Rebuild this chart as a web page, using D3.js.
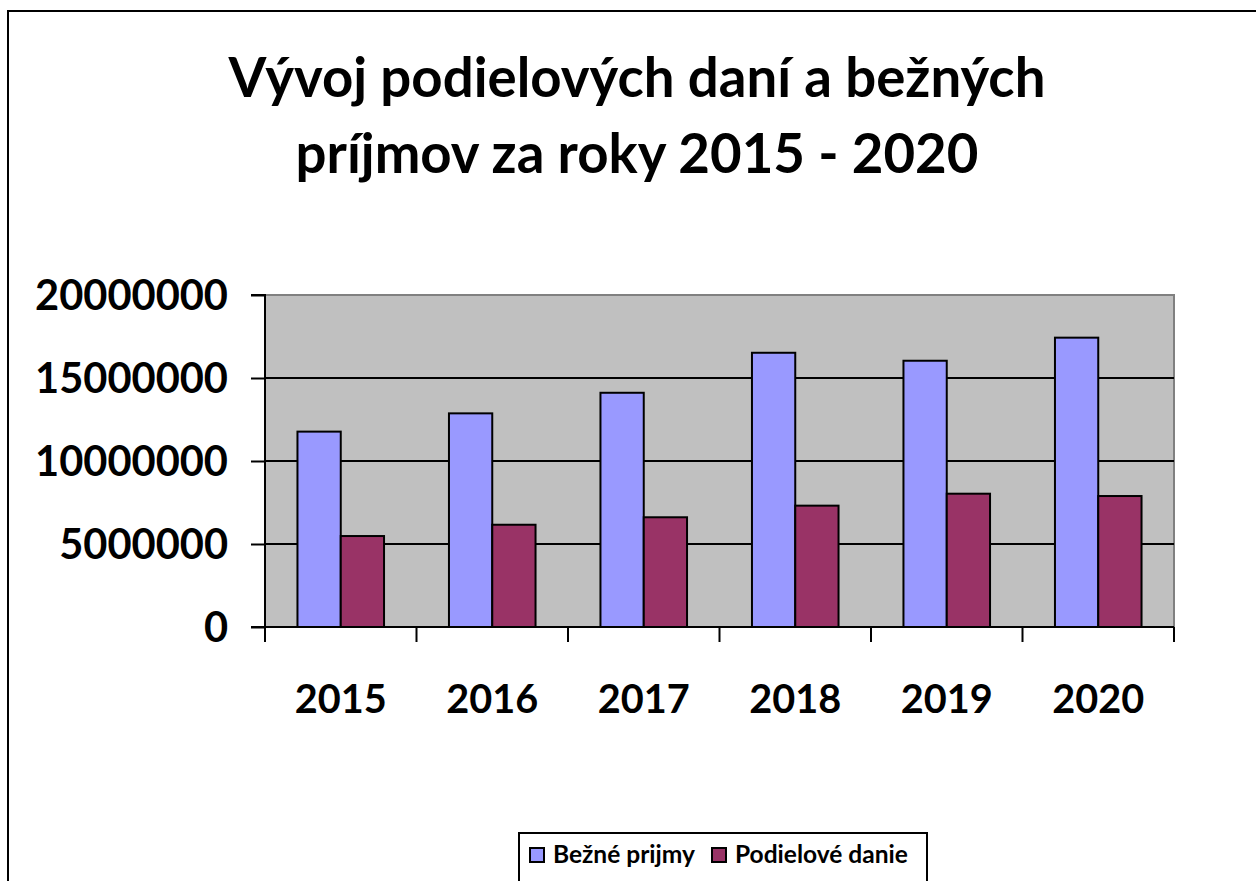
<!DOCTYPE html>
<html>
<head>
<meta charset="utf-8">
<script src="https://cdn.jsdelivr.net/npm/d3@7"></script>
<style>
  html, body { margin: 0; padding: 0; background: #fff; }
  svg { display: block; }
  text { font-family: Lato, "Open Sans", "DejaVu Sans", sans-serif; font-weight: bold; fill: #000; }
</style>
</head>
<body>
<svg id="chart" width="1256" height="881"></svg>
<script>
const titleLines = ["Vývoj podielových daní a bežných", "príjmov za roky 2015 - 2020"];
const years = ["2015", "2016", "2017", "2018", "2019", "2020"];
const seriesNames = ["Bežné prijmy", "Podielové danie"];
const bezne = [11770000, 12870000, 14110000, 16520000, 16040000, 17430000];
const podielove = [5480000, 6160000, 6610000, 7310000, 8030000, 7890000];
const yTicks = [0, 5000000, 10000000, 15000000, 20000000];
const colors = ["#9999FF", "#993366"];

const svg = d3.select("#chart");
const W = 1256, H = 881;

// size a text so its rendered width equals target
function fitSize(str, target) {
  const t = svg.append("text").style("font-size", "100px").text(str);
  const w = t.node().getComputedTextLength();
  t.remove();
  return 100 * target / w;
}

// outer chart frame (extends past right/bottom edge)
svg.append("rect").attr("x", 8).attr("y", 11).attr("width", W + 20).attr("height", H + 20)
  .attr("fill", "#fff").attr("stroke", "#000").attr("stroke-width", 2);

// title
const titleSize = fitSize(titleLines[0], 817);
svg.append("g").selectAll("text").data(titleLines).join("text")
  .attr("x", 637).attr("y", (d, i) => 97 + i * 76)
  .attr("text-anchor", "middle").style("font-size", titleSize + "px").text(d => d);

const plot = { left: 265, top: 295, right: 1174, bottom: 627 };
const x = d3.scaleBand().domain(years).range([plot.left, plot.right]).paddingInner(0).paddingOuter(0);
const y = d3.scaleLinear().domain([0, 20000000]).range([plot.bottom, plot.top]);

// plot area background
svg.append("rect").attr("x", plot.left).attr("y", plot.top)
  .attr("width", plot.right - plot.left).attr("height", plot.bottom - plot.top)
  .attr("fill", "#C0C0C0");
// grey top/right border
svg.append("path")
  .attr("d", `M${plot.left},${plot.top}H${plot.right}V${plot.bottom}`)
  .attr("fill", "none").attr("stroke", "#808080").attr("stroke-width", 2);

// gridlines
svg.append("g").selectAll("line").data(yTicks.filter(d => d > 0 && d < 20000000)).join("line")
  .attr("x1", plot.left).attr("x2", plot.right)
  .attr("y1", d => y(d)).attr("y2", d => y(d))
  .attr("stroke", "#000").attr("stroke-width", 2);

// bars
const barW = x.bandwidth() / 3.5;
const series = [bezne, podielove];
series.forEach((vals, si) => {
  svg.append("g").selectAll("rect").data(vals).join("rect")
    .attr("x", (d, i) => x(years[i]) + barW * 0.75 + si * barW)
    .attr("y", d => y(d))
    .attr("width", barW)
    .attr("height", d => plot.bottom - y(d))
    .attr("fill", colors[si]).attr("stroke", "#000").attr("stroke-width", 2);
});

// y axis
const ySize = fitSize("20000000", 193);
const yAxis = d3.axisLeft(y).tickValues(yTicks).tickSize(14).tickPadding(23).tickFormat(d3.format("d"));
const gy = svg.append("g").attr("transform", `translate(${plot.left},0)`).call(yAxis);
gy.select(".domain").attr("stroke", "#000").attr("stroke-width", 2).attr("d", `M-14,${plot.top}H0V${plot.bottom}H-14`);
gy.selectAll(".tick line").attr("stroke", "#000").attr("stroke-width", 2);
gy.selectAll(".tick text").style("font-size", ySize + "px").attr("dy", "0.36em").attr("font-family", null);

// x axis
const xSize = fitSize("2015", 92);
const xAxis = d3.axisBottom(x).tickSize(0).tickPadding(58);
const gx = svg.append("g").attr("transform", `translate(0,${plot.bottom})`).call(xAxis);
gx.select(".domain").attr("stroke", "#000").attr("stroke-width", 2).attr("d", `M${plot.left},0H${plot.right}`);
gx.selectAll(".tick text").style("font-size", xSize + "px").attr("font-family", null);
// category boundary ticks
const bounds = years.map(d => x(d)).concat([plot.right]);
svg.append("g").selectAll("line").data(bounds).join("line")
  .attr("x1", d => d).attr("x2", d => d)
  .attr("y1", plot.bottom).attr("y2", plot.bottom + 15)
  .attr("stroke", "#000").attr("stroke-width", 2);

// legend
const lg = svg.append("g");
lg.append("rect").attr("x", 519).attr("y", 833).attr("width", 408).attr("height", 70)
  .attr("fill", "#fff").attr("stroke", "#000").attr("stroke-width", 2);
const lx = [530, 712];
const lSize = fitSize(seriesNames[1], 173);
seriesNames.forEach((n, i) => {
  lg.append("rect").attr("x", lx[i]).attr("y", 848).attr("width", 14).attr("height", 14)
    .attr("fill", colors[i]).attr("stroke", "#000").attr("stroke-width", 2);
  lg.append("text").attr("x", lx[i] + 23).attr("y", 863).style("font-size", lSize + "px").text(n);
});
</script>
</body>
</html>
